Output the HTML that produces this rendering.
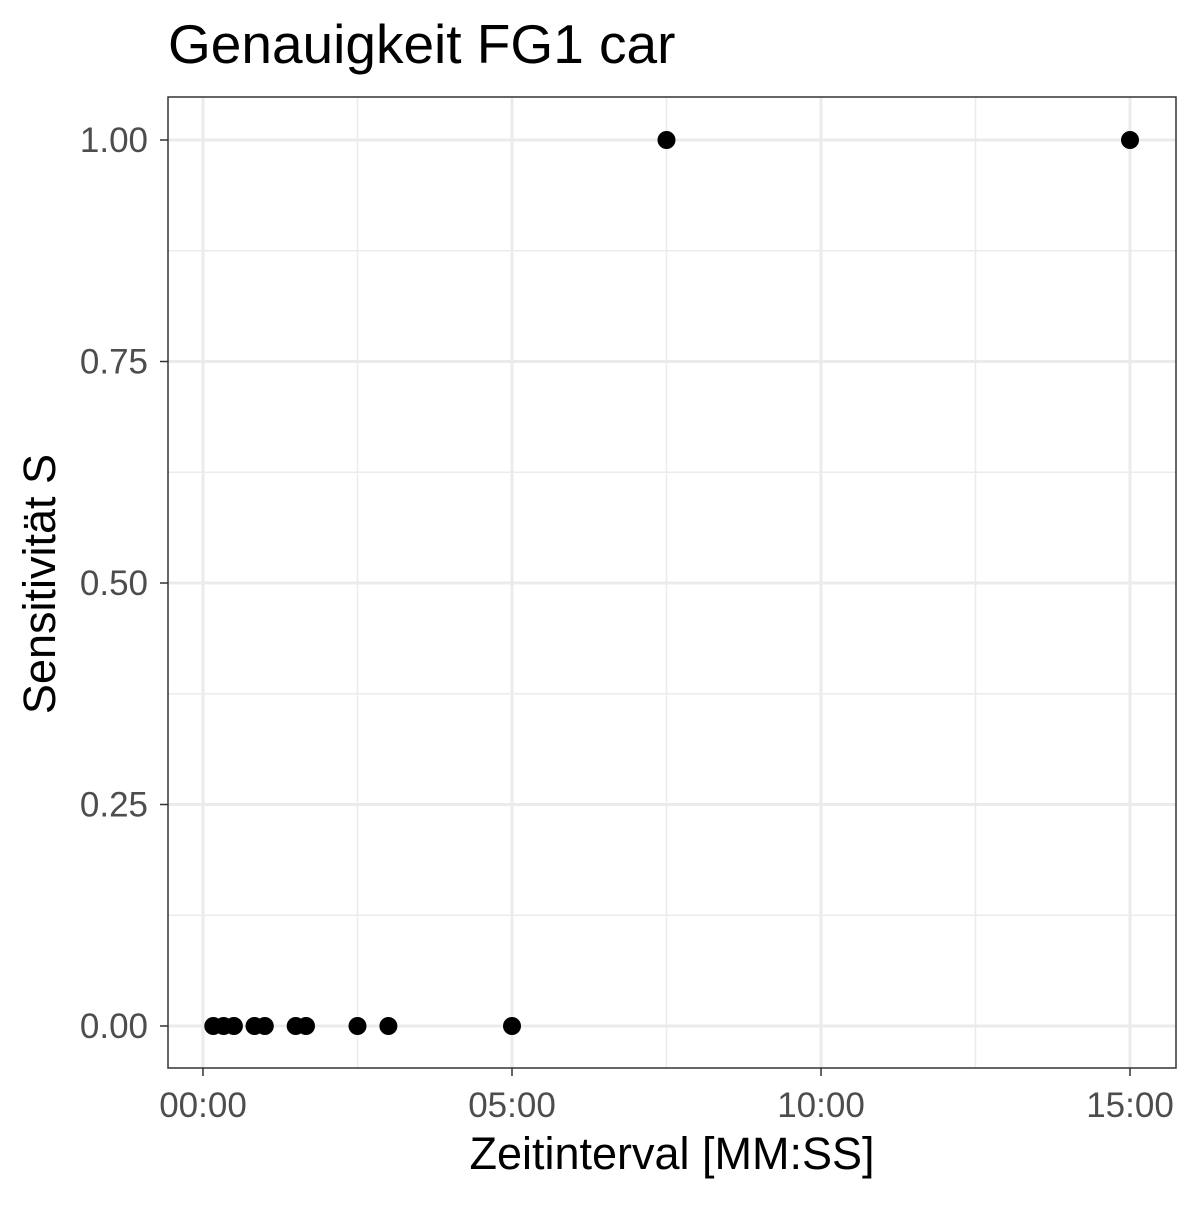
<!DOCTYPE html>
<html><head><meta charset="utf-8"><style>
body{margin:0;background:#fff;}
svg text{font-family:"Liberation Sans",Arial,sans-serif;}
</style></head><body>
<svg id="chart" width="1200" height="1200" xmlns="http://www.w3.org/2000/svg">
<rect width="1200" height="1200" fill="#fff"/>
<text x="168" y="63" font-size="55" fill="#000">Genauigkeit FG1 car</text>
<g id="grid"></g>
<g id="points"></g>
<rect x="168" y="97" width="1008" height="971" fill="none" stroke="#333" stroke-width="1.5"/>
<g id="axes"></g>
<text x="672" y="1169" font-size="45" text-anchor="middle" fill="#000">Zeitinterval [MM:SS]</text>
<text transform="translate(55,584) rotate(-90)" font-size="45" text-anchor="middle" fill="#000">Sensitivität S</text>
</svg>
<script>
const xSeconds=[10,20,30,50,60,90,100,150,180,300,450,900];
const ySens=[0,0,0,0,0,0,0,0,0,0,1,1];
const xTicks=[0,300,600,900];
const xTickLabels=["00:00","05:00","10:00","15:00"];
const yTicks=[0,0.25,0.5,0.75,1];
const yTickLabels=["0.00","0.25","0.50","0.75","1.00"];
const NS="http://www.w3.org/2000/svg";
const sx=v=>203+v*(927/900);
const sy=v=>1026-v*886;
function mk(tag,attrs,parent){const e=document.createElementNS(NS,tag);for(const k in attrs)e.setAttribute(k,attrs[k]);parent.appendChild(e);return e;}
const grid=document.getElementById('grid'),axes=document.getElementById('axes'),pts=document.getElementById('points');
for(let i=0;i<xTicks.length-1;i++){const m=(xTicks[i]+xTicks[i+1])/2;const l=mk('line',{x1:sx(m),x2:sx(m),y1:97,y2:1068,stroke:'#ebebeb','stroke-width':1.5},grid);

}
for(let i=0;i<yTicks.length-1;i++){const m=(yTicks[i]+yTicks[i+1])/2;const l=mk('line',{x1:168,x2:1176,y1:sy(m),y2:sy(m),stroke:'#ebebeb','stroke-width':1.5},grid);

}
xTicks.forEach((t,i)=>{const l=mk('line',{x1:sx(t),x2:sx(t),y1:97,y2:1068,stroke:'#ebebeb','stroke-width':3},grid);


const tk=mk('line',{x1:sx(t),x2:sx(t),y1:1068,y2:1076,stroke:'#333','stroke-width':1.5},axes);


const tx=mk('text',{x:sx(t),y:1117,'font-size':35,'text-anchor':'middle',fill:'#4d4d4d'},axes);tx.textContent=xTickLabels[i];

});
yTicks.forEach((t,i)=>{const l=mk('line',{x1:168,x2:1176,y1:sy(t),y2:sy(t),stroke:'#ebebeb','stroke-width':3},grid);


const tk=mk('line',{x1:160,x2:168,y1:sy(t),y2:sy(t),stroke:'#333','stroke-width':1.5},axes);


const tx=mk('text',{x:148,y:sy(t)+12,'font-size':35,'text-anchor':'end',fill:'#4d4d4d'},axes);tx.textContent=yTickLabels[i];

});
xSeconds.forEach((v,i)=>{const c=mk('circle',{cx:sx(v),cy:sy(ySens[i]),r:9,fill:'#000'},pts);

});
</script>
</body></html>
